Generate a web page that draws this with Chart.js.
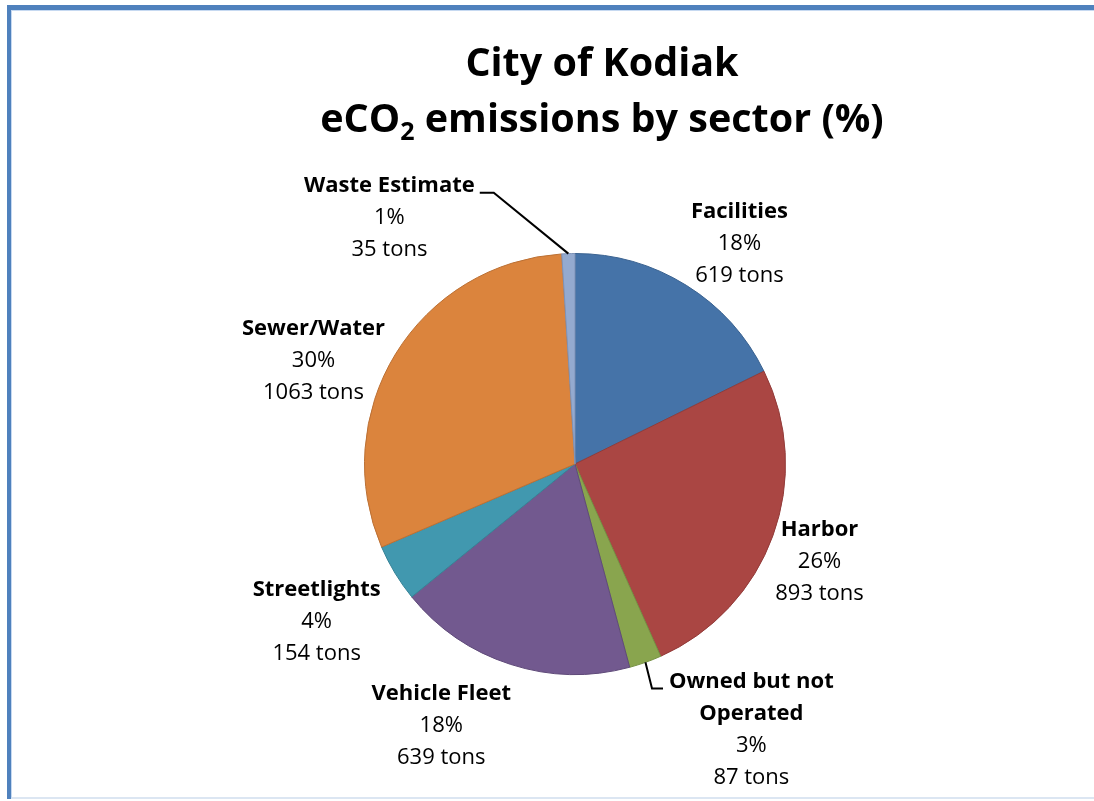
<!DOCTYPE html>
<html>
<head>
<meta charset="utf-8">
<title>City of Kodiak eCO2 emissions by sector</title>
<script src="https://cdn.jsdelivr.net/npm/chart.js@4.4.0/dist/chart.umd.min.js"></script>
<style>
  html, body { margin: 0; padding: 0; background: #fff; overflow: hidden; }
  #wrap { position: relative; width: 1094px; height: 801px; }
  #frame {
    position: absolute; left: 7px; top: 5px; width: 1200px; height: 794px;
    border-top: 5px solid #4F81BD; border-left: 4px solid #4F81BD;
    box-sizing: border-box;
  }
  #frame-in {
    position: absolute; left: 0; top: 0; right: 0; bottom: 0;
    border-top: 1px solid #C6D9F1; border-left: 1px solid #C6D9F1; border-bottom: 2px solid #DCE6F2;
  }
  canvas { position: absolute; left: 0; top: 0; }
</style>
</head>
<body>
<div id="wrap">
  <div id="frame"><div id="frame-in"></div></div>
  <canvas id="myChart" width="1094" height="801"></canvas>
</div>
<script>
'use strict';

// DATA
var categories = ['Facilities', 'Harbor', ['Owned but not', 'Operated'], 'Vehicle Fleet', 'Streetlights', 'Sewer/Water', 'Waste Estimate'];
var tons = [619, 893, 87, 639, 154, 1063, 35];
var pctLabels = ['18%', '26%', '3%', '18%', '4%', '30%', '1%'];
var titleLine1 = 'City of Kodiak';
var titleLine2 = ['eCO', '2', ' emissions by sector (%)'];

// COLORS
var fillColors = ['#4573A8', '#AA4643', '#89A54E', '#72598F', '#4198AF', '#DB843D', '#94AACF'];
var edgeColors = ['#3A6290', '#923B39', '#759042', '#5F4A79', '#368296', '#BB7034', '#7E93B8'];

// LABEL LAYOUT: [angle from top in deg, distance in radii, leader side]
var labelLayout = [
  [36.7, 1.307, null],
  [111.8, 1.251, null],
  [146.4, 1.514, 'left'],
  [207.1, 1.395, null],
  [238.6, 1.438, null],
  [291.6, 1.336, null],
  [323.0, 1.465, 'right']
];

var FONT = '"Open Sans", Lato, sans-serif';
var LINE_H = 32;
var LABEL_PX = 22;

// TITLE (drawn by hand because of the subscript 2)
var titlePlugin = {
  id: 'kodiakTitle',
  afterDraw: function(chart) {
    var ctx = chart.ctx;
    var cx = 602;
    ctx.save();
    ctx.fillStyle = '#000';
    ctx.textBaseline = 'alphabetic';
    ctx.textAlign = 'left';
    ctx.font = 'bold 39.5px ' + FONT;
    var w1 = ctx.measureText(titleLine1).width;
    ctx.fillText(titleLine1, cx - w1 / 2, 76);

    var big = 'bold 39.5px ' + FONT;
    var small = 'bold 25px ' + FONT;
    ctx.font = big;
    var a = ctx.measureText(titleLine2[0]).width;
    var c = ctx.measureText(titleLine2[2]).width;
    ctx.font = small;
    var b = ctx.measureText(titleLine2[1]).width;
    var x = cx - (a + b + c) / 2;
    ctx.font = big;
    ctx.fillText(titleLine2[0], x, 132);
    ctx.font = small;
    ctx.fillText(titleLine2[1], x + a, 140);
    ctx.font = big;
    ctx.fillText(titleLine2[2], x + a + b, 132);
    ctx.restore();
  }
};

// SLICE LABELS + LEADER LINES
var labelPlugin = {
  id: 'sliceLabels',
  afterDatasetsDraw: function(chart) {
    var ctx = chart.ctx;
    var arcs = chart.getDatasetMeta(0).data;
    ctx.save();
    ctx.textBaseline = 'middle';
    ctx.textAlign = 'center';
    arcs.forEach(function(arc, i) {
      var p = arc.getProps(['x', 'y', 'startAngle', 'endAngle', 'outerRadius'], true);
      var lay = labelLayout[i];
      var ang = lay[0] * Math.PI / 180;
      var lx = p.x + Math.sin(ang) * p.outerRadius * lay[1];
      var ly = p.y - Math.cos(ang) * p.outerRadius * lay[1];

      var names = Array.isArray(categories[i]) ? categories[i] : [categories[i]];
      var lines = names.map(function(n) { return { t: n, bold: true }; });
      lines.push({ t: pctLabels[i], bold: false });
      lines.push({ t: tons[i] + ' tons', bold: false });

      var top = ly - (lines.length - 1) * LINE_H / 2;
      lines.forEach(function(ln, k) {
        ctx.font = (ln.bold ? 'bold ' : '') + LABEL_PX + 'px ' + FONT;
        ctx.fillStyle = '#000';
        ctx.fillText(ln.t, lx, top + k * LINE_H);
      });

      if (lay[2]) {
        ctx.font = 'bold ' + LABEL_PX + 'px ' + FONT;
        var w = ctx.measureText(lines[0].t).width;
        var mid = (p.startAngle + p.endAngle) / 2;
        var ax = p.x + Math.cos(mid) * p.outerRadius;
        var ay = p.y + Math.sin(mid) * p.outerRadius;
        var yy = top + 7;
        var ex, bx;
        if (lay[2] === 'right') {
          ex = lx + w / 2 + 5; bx = ex + 14;
        } else {
          ex = lx - w / 2 - 6; bx = ex - 11;
        }
        ctx.beginPath();
        ctx.strokeStyle = '#000';
        ctx.lineWidth = 2;
        ctx.moveTo(ax, ay);
        ctx.lineTo(bx, yy);
        ctx.lineTo(ex, yy);
        ctx.stroke();
      }
    });
    ctx.restore();
  }
};

// CHART
var ctx = document.getElementById('myChart').getContext('2d');

var chart = new Chart(ctx, {
  type: 'pie',
  data: {
    labels: categories,
    datasets: [{
      data: tons,
      backgroundColor: fillColors,
      borderColor: edgeColors,
      borderWidth: 1
    }]
  },
  options: {
    responsive: false,
    animation: false,
    layout: { padding: { left: 364, right: 308, top: 253, bottom: 126 } },
    plugins: {
      legend: { display: false },
      tooltip: { enabled: false },
      title: { display: false }
    }
  },
  plugins: [labelPlugin, titlePlugin]
});
</script>
</body>
</html>
